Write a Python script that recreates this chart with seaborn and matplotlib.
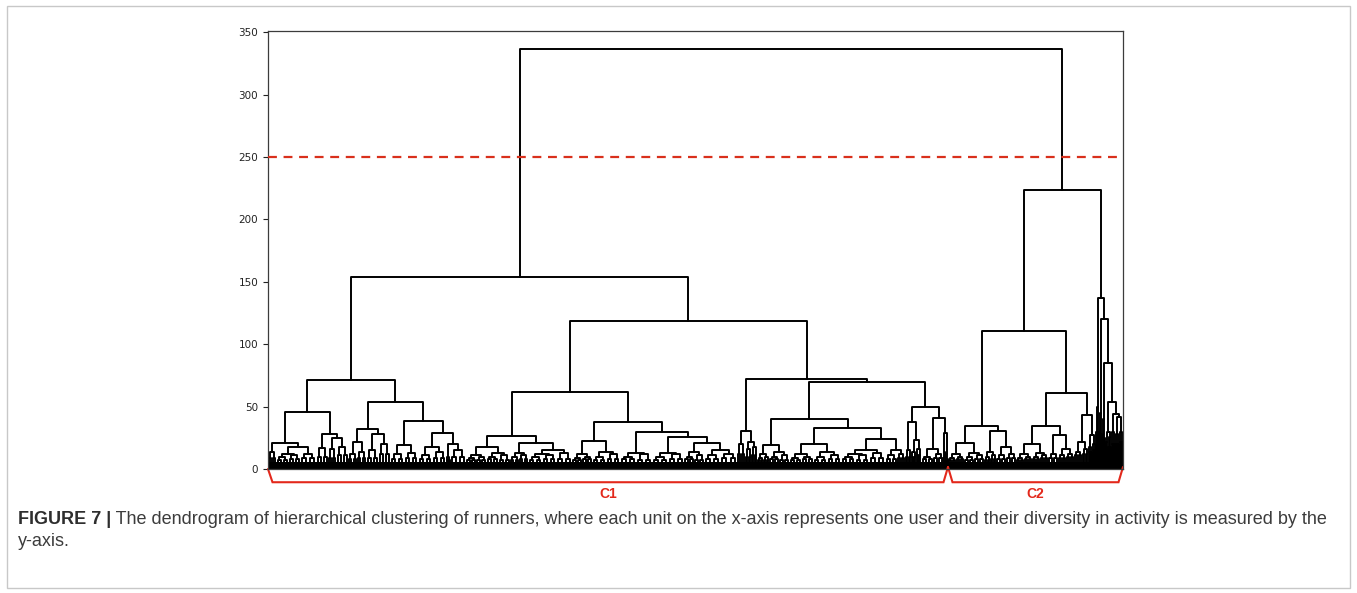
import matplotlib
matplotlib.use("Agg")
import matplotlib.pyplot as plt
import pandas as pd
import seaborn as sns
from matplotlib.patches import Rectangle

# Merge tree of the runners.
# A node is [merge height, left, right]; a leaf group is
# (users, height of its top merge, height of the two merges just below it).
cluster_c1 = [153.5,
    [71.3,
        [45.9,
            [20.5, (8, 13.6, 9), [17.9, [12, (12, 10, 7), (12, 11, 8)], (16, 12, 9)]],
            [27.8, (12, 17, 10), [25, (8, 16, 9), (12, 18, 11)]]],
        [53.9,
            [32, [22, (9, 12, 8), (9, 14, 9)], [28, (12, 15, 9), (12, 20, 12)]],
            [38.4, [19, (14, 12, 8), (14, 13, 9)],
                   [29, [18, (14, 11, 8), (14, 14, 9)], [20, (4, 10, 7), (16, 15, 10)]]]]],
    [118.5,
        [61.4,
            [26.4,
                [17.9, [11, (10, 9, 7), (10, 10, 7)], [13, (12, 10, 8), (12, 11, 7)]],
                [20.5, [13, (9, 10, 7), (9, 11, 8)],
                       [15, [12, (14, 10, 7), (14, 11, 8)], (16, 13, 8)]]],
            [37.4,
                [22.4, [12, (10, 9, 7), (10, 10, 8)], [14, (14, 10, 7), (14, 12, 8)]],
                [29.9, [13, (16, 10, 8), (16, 12, 7)],
                       [25.4, [13, (16, 10, 7), (16, 12, 8)],
                              [21, [14, (10, 10, 8), (10, 11, 7)],
                                   [15, (16, 11, 8), (17, 12, 9)]]]]]],
        [72.1,
            [30.4, (8, 20, 12), [22, (6, 16, 10), (6, 18, 11)]],
            [69.4,
                [39.8,
                    [19.2, [12, (6, 9, 7), (6, 10, 7)], [14, (10, 10, 8), (10, 11, 7)]],
                    [33,
                        [19.7, [12, (12, 9, 7), (12, 10, 8)], [14, (14, 10, 7), (14, 11, 8)]],
                        [24, [15, [12, (14, 10, 8), (14, 11, 7)], (16, 13, 9)],
                             [15, (12, 11, 8), (8, 12, 9)]]]],
                [49.9,
                    [37.6, (6, 15, 10), [23, (5, 14, 10), (5, 16, 11)]],
                    [41, [16, (12, 10, 8), (10, 12, 9)], [29, (2, 14, 9), (3, 12, 8)]]]]]]]

cluster_c2 = [223.4,
    [110.5,
        [34.4,
            [20.7, [12, (8, 9, 7), (8, 10, 8)], [13, (10, 10, 7), (10, 11, 8)]],
            [30.4, [14, (6, 10, 7), (6, 11, 8)], [18, (10, 11, 8), (10, 12, 9)]]],
        [61.0,
            [34.4,
                [20, [12, (8, 9, 7), (8, 10, 8)], [13, (8, 10, 8), (8, 11, 9)]],
                [27, (10, 12, 9), [16, (8, 11, 9), (8, 12, 10)]]],
            [43.0, [22, (8, 14, 11), (6, 16, 12)], [27, (4, 18, 14), (4, 20, 15)]]]],
    [136.7, (3, 50, 30),
        [120.1, (3, 45, 28),
            [85.1, (3, 40, 25),
                [53.9, [30, (3, 22, 16), (3, 26, 18)],
                       [44.3, (4, 30, 20), [41.6, (4, 28, 20), (4, 30, 22)]]]]]]]

root_height = 336.3
cut_height = 250
cluster_names = ["C1", "C2"]
y_ticks = [0, 50, 100, 150, 200, 250, 300, 350]
caption_head = "FIGURE 7 |"
caption_lines = [
    " The dendrogram of hierarchical clustering of runners, where each unit on the x-axis "
    "represents one user and their diversity in activity is measured by the",
    "y-axis.",
]

tree = [root_height, cluster_c1, cluster_c2]
BAND = 5.5

links = []


def u_link(x_left, x_right, y_left, top, y_right):
    links.append(([x_left, x_left, x_right, x_right], [y_left, top, top, y_right]))


def layout(node, start):
    """Place a subtree from `start`; return (centre, top, end)."""
    if len(node) == 3 and not isinstance(node[1], (list, tuple)):
        width, h, sub = node
        q = width / 8
        u_link(start + q, start + 3 * q, 0, sub, 0)
        u_link(start + 5 * q, start + 7 * q, 0, sub, 0)
        u_link(start + 2 * q, start + 6 * q, sub, h, sub)
        return start + width / 2, h, start + width
    h, left, right = node
    xl, hl, mid = layout(left, start)
    xr, hr, end = layout(right, mid)
    u_link(xl, xr, hl, h, hr)
    return (xl + xr) / 2, h, end


_, _, c1_end = layout(cluster_c1, 0)
links.clear()
_, _, total = layout(tree, 0)

rows = []
for i, (xs, ys) in enumerate(links):
    for j, (x, y) in enumerate(zip(xs, ys)):
        rows.append({"link": i, "order": j, "x": x, "y": y})
df = pd.DataFrame(rows)

sns.set_style("ticks")
plt.rcParams["font.family"] = ["DejaVu Sans"]

W, H = 1357, 593
fig = plt.figure(figsize=(W / 100, H / 100), dpi=100)
ax = fig.add_axes([268 / W, 1 - 469 / H, 855 / W, (469 - 31) / H])

ax.fill_between([0, total], 0, BAND, color="black", lw=0, zorder=1)
sns.lineplot(data=df, x="x", y="y", units="link", estimator=None, sort=False,
             color="black", lw=1.4, legend=False, ax=ax, zorder=2)

ax.axhline(cut_height, color="#d9301c", lw=1.6, dashes=(4, 3), zorder=3)

ax.set_xlim(0, total)
ax.set_ylim(0, 351)
ax.set_yticks(y_ticks)
ax.set_xticks([])
ax.set_xlabel("")
ax.set_ylabel("")
ax.tick_params(axis="y", labelsize=7.5, length=3.6, width=0.8, colors="#222222", pad=3.5)
for s in ax.spines.values():
    s.set_visible(True)
    s.set_color("#3c3c3c")
    s.set_linewidth(0.9)

# cluster brackets under the leaves
red = "#e3281b"
low, tip, slant = -10.6, 1.6, 4.5
spans = [(0, c1_end), (c1_end, total)]
for k, ((a, b), name) in enumerate(zip(spans, cluster_names)):
    ya = 0 if k == 0 else tip
    ax.plot([a, a + slant, b - slant, b], [ya, low, low, tip], color=red, lw=1.5,
            clip_on=False, solid_joinstyle="miter")
    ax.text((a + b) / 2, -20, name, color=red, fontsize=10, fontweight="bold",
            family="Liberation Sans", ha="center", va="center")

# caption
fig.patches.append(Rectangle((7 / W, 1 - 588 / H), (1350 - 7) / W, (588 - 6) / H,
                             transform=fig.transFigure, fill=False,
                             edgecolor="#c8c8c8", lw=1))
cap_size = 13
x0 = 18 / W
y1 = 1 - 524 / H
y2 = 1 - 546 / H
head = fig.text(x0, y1, caption_head, fontsize=cap_size, fontweight="bold",
                family="Liberation Sans", color="#2e2e2e", va="baseline")
fig.canvas.draw()
bb = head.get_window_extent(renderer=fig.canvas.get_renderer())
fig.text(bb.x1 / W, y1, caption_lines[0], fontsize=cap_size, family="Liberation Sans",
         color="#3c3c3c", va="baseline")
fig.text(x0, y2, caption_lines[1], fontsize=cap_size, family="Liberation Sans",
         color="#3c3c3c", va="baseline")

fig.savefig("out.png", dpi=100)
